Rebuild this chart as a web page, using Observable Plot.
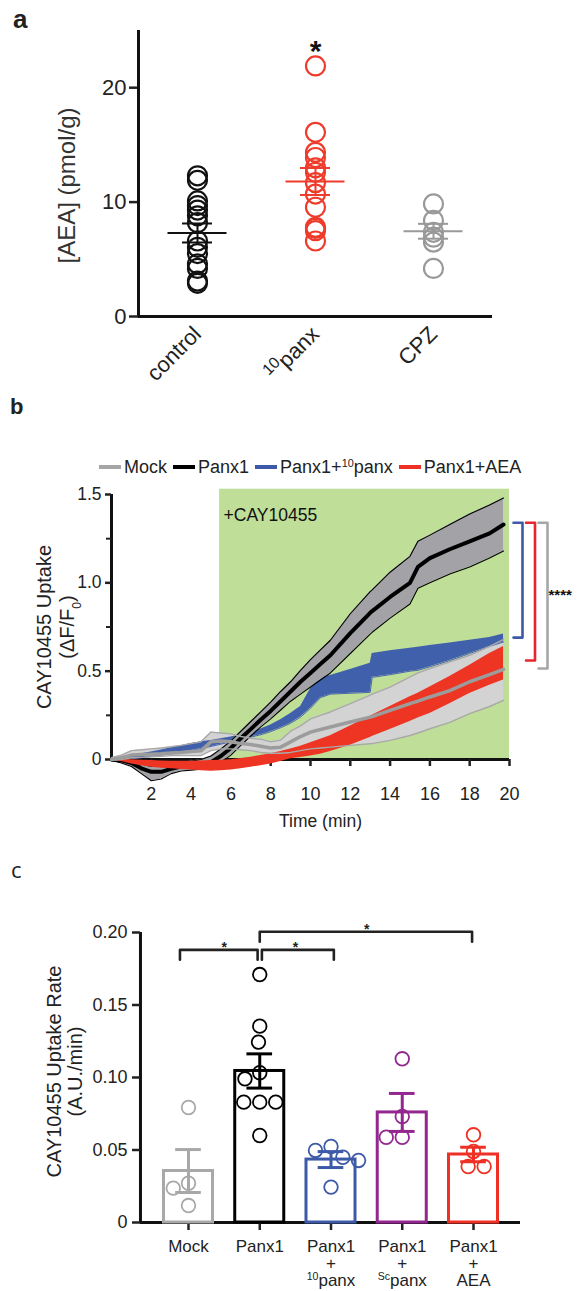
<!DOCTYPE html>
<html><head><meta charset="utf-8">
<script src="https://cdn.jsdelivr.net/npm/d3@7"></script>
<script src="https://cdn.jsdelivr.net/npm/@observablehq/plot@0.6"></script>
<style>
body{margin:0;background:#fff;}
#fig{position:relative;width:578px;height:1291px;overflow:hidden;font-family:"Liberation Sans",Arial,Helvetica,sans-serif;color:#222;}
.panel{position:absolute;left:0;}
.letter{position:absolute;line-height:1;}
#legendB{position:absolute;left:99px;top:458px;display:flex;gap:6px;font-size:18px;line-height:18px;align-items:center;white-space:nowrap;}
.item{display:flex;align-items:center;gap:3px;}
.sw{width:22px;height:4px;display:inline-block;}
sup{font-size:60%;vertical-align:0.6em;line-height:0;}
</style></head><body><div id="fig"></div>
<script>
// ---------------- DATA ----------------
// Panel a
const groupsA = ["control", "^{10}panx", "CPZ"];
const colorsA = ["#111111", "#ee3b2b", "#999999"];
const controlAEA = [12.3, 11.9, 10.1, 9.7, 9.3, 8.8, 8.2, 6.6, 6.05, 5.5, 4.6, 4.2, 3.1, 2.9];
const panxAEA = [21.9, 16.1, 14.35, 13.9, 13.0, 12.6, 11.7, 10.7, 9.55, 7.8, 7.7, 7.5, 6.6];
const cpzAEA = [9.84, 8.4, 7.36, 6.93, 6.5, 4.2];
const meanA = [7.3, 11.8, 7.45];
const semA = [0.83, 1.18, 0.65];
const sigA = ["", "*", ""];
const yTicksA = [0, 10, 20];

// Panel b
const seriesB = ["Mock", "Panx1", "Panx1+^{10}panx", "Panx1+AEA"];
const colorsB = ["#a6a6a6", "#000000", "#3d5aa8", "#ee3124"];
const timeMin = [0,0.5,1,1.5,2,2.5,3,3.5,4,4.5,5,5.5,6,6.5,7,7.5,8,8.5,9,9.5,10,10.5,11,12,13,13.1,14,15,15.4,16,17,18,19,19.7];
const panx1Mean = [0,-0.005,-0.02,-0.05,-0.07,-0.07,-0.053,-0.04,-0.034,-0.028,-0.015,0.02,0.065,0.12,0.172,0.225,0.275,0.33,0.385,0.44,0.49,0.54,0.59,0.715,0.83,0.84,0.92,1.0,1.09,1.14,1.19,1.235,1.28,1.33];
const panx1Lo = [-0.005,-0.02,-0.04,-0.08,-0.12,-0.11,-0.08,-0.065,-0.06,-0.055,-0.05,-0.015,0.025,0.08,0.133,0.185,0.23,0.28,0.33,0.37,0.41,0.45,0.49,0.6,0.71,0.72,0.8,0.88,0.97,1.0,1.05,1.09,1.14,1.18];
const panx1Hi = [0.01,0.01,0.0,-0.025,-0.04,-0.04,-0.03,-0.015,-0.01,0.0,0.02,0.06,0.105,0.16,0.215,0.27,0.325,0.385,0.44,0.505,0.565,0.62,0.675,0.825,0.95,0.96,1.06,1.15,1.235,1.27,1.33,1.39,1.44,1.48];
const tenpanxLo = [-0.01,-0.005,0.004,0.01,0.017,0.025,0.032,0.04,0.05,0.062,0.074,0.087,0.1,0.113,0.127,0.14,0.158,0.18,0.205,0.24,0.29,0.35,0.37,0.375,0.38,0.465,0.48,0.5,0.505,0.525,0.56,0.6,0.64,0.665];
const tenpanxHi = [0.0,0.012,0.023,0.032,0.042,0.054,0.066,0.078,0.09,0.1,0.108,0.118,0.127,0.14,0.155,0.172,0.195,0.225,0.26,0.3,0.4,0.465,0.475,0.51,0.545,0.6,0.615,0.63,0.635,0.645,0.66,0.675,0.69,0.71];
const mockMean = [0,0.01,0.025,0.028,0.03,0.032,0.037,0.04,0.045,0.05,0.1,0.105,0.1,0.09,0.085,0.075,0.065,0.07,0.1,0.13,0.155,0.17,0.184,0.212,0.24,0.243,0.278,0.316,0.33,0.354,0.39,0.44,0.48,0.51];
const mockLo = [-0.005,0.0,0.01,0.012,0.015,0.018,0.022,0.022,0.022,0.023,0.05,0.06,0.06,0.055,0.05,0.04,0.035,0.035,0.04,0.05,0.06,0.065,0.07,0.08,0.089,0.09,0.108,0.136,0.15,0.174,0.21,0.26,0.3,0.335];
const mockHi = [0.01,0.025,0.05,0.055,0.06,0.065,0.072,0.08,0.09,0.1,0.155,0.15,0.145,0.13,0.12,0.115,0.1,0.11,0.16,0.19,0.23,0.25,0.269,0.316,0.364,0.37,0.41,0.468,0.49,0.515,0.553,0.59,0.64,0.68];
const aeaLo = [-0.005,-0.012,-0.025,-0.035,-0.044,-0.05,-0.053,-0.057,-0.06,-0.064,-0.066,-0.064,-0.06,-0.052,-0.044,-0.035,-0.025,-0.012,0.004,0.012,0.02,0.03,0.045,0.08,0.125,0.13,0.17,0.215,0.235,0.26,0.315,0.373,0.42,0.45];
const aeaHi = [0.005,0.0,-0.002,-0.004,-0.006,-0.008,-0.01,-0.01,-0.01,-0.008,-0.006,-0.004,-0.002,0.005,0.013,0.022,0.032,0.045,0.06,0.075,0.095,0.115,0.135,0.19,0.245,0.25,0.3,0.355,0.375,0.41,0.47,0.534,0.6,0.64];
const drugStart = 5.43;      // +CAY10455 added (min)
const drugLabel = "+CAY10455";
const drugTop = 1.53;
const yTicksB = [0, 0.5, 1, 1.5];
const yMinorB = [0.25, 0.75, 1.25];
const xTicksB = [2, 4, 6, 8, 10, 12, 14, 16, 18, 20];
const sigTopB = 1.34;
const sigBottomsB = [0.69, 0.56, 0.515];   // Panx1+10panx, Panx1+AEA, Mock
const sigColorsB = ["#3d5aa8", "#e8262d", "#a6a6a6"];
const sigLabelB = "****";

// Panel c
const groupsC = ["Mock", "Panx1", "Panx1\n+\n^{10}panx", "Panx1\n+\n^{Sc}panx", "Panx1\n+\nAEA"];
const colorsC = ["#a8a8a8", "#000000", "#3d5aa8", "#93278f", "#ee3124"];
const meanC = [0.0355, 0.1045, 0.0434, 0.0759, 0.0469];
const semC = [0.0148, 0.0118, 0.0055, 0.0131, 0.005];
const pointsC = [
  [0.0793, 0.0271, 0.0237, 0.0117],
  [0.171, 0.1354, 0.1244, 0.1033, 0.0991, 0.083, 0.083, 0.083, 0.06],
  [0.0524, 0.0497, 0.045, 0.0428, 0.0244],
  [0.1129, 0.0731, 0.0588, 0.0588],
  [0.0605, 0.049, 0.0386, 0.0386]
];
const sigC = [{from: 0, to: 1, y: 0.188}, {from: 1, to: 2, y: 0.188}, {from: 1, to: 4, y: 0.2005}];
const yTicksC = [0, 0.05, 0.1, 0.15, 0.2];

// ---------------- HELPERS ----------------
const FONT = '"Liberation Sans", Arial, Helvetica, sans-serif';
const fig = document.getElementById("fig");
const SVGNS = "http://www.w3.org/2000/svg";
function richText(root, supSize) {
  root.querySelectorAll("text, tspan").forEach(el => {
    if (el.children.length) return;
    const s = el.textContent;
    if (!/[\^_]\{/.test(s)) return;
    el.textContent = "";
    const re = /([\^_])\{([^}]*)\}/g;
    let last = 0, m;
    const add = str => { const t = document.createElementNS(SVGNS, "tspan"); t.textContent = str; el.appendChild(t); return t; };
    while ((m = re.exec(s))) {
      if (m.index > last) add(s.slice(last, m.index));
      const t = add(m[2]);
      t.setAttribute("baseline-shift", m[1] === "^" ? "super" : "sub");
      t.setAttribute("font-size", supSize);
      last = re.lastIndex;
    }
    if (last < s.length) add(s.slice(last));
  });
}
function htmlRich(s) { return s.replace(/\^\{([^}]*)\}/g, "<sup>$1</sup>"); }
function place(svg, top, supSize = "62%") {
  const div = document.createElement("div");
  div.className = "panel"; div.style.top = top + "px";
  richText(svg, supSize);
  div.appendChild(svg); fig.appendChild(div);
}
function letter(ch, left, top, size, weight, family) {
  const d = document.createElement("div");
  d.className = "letter"; d.textContent = ch;
  Object.assign(d.style, {left: left + "px", top: top + "px", fontSize: size + "px", fontWeight: weight, fontFamily: family || FONT});
  fig.appendChild(d);
}

// ---------------- PANEL A ----------------
const dotsA = [controlAEA, panxAEA, cpzAEA].flatMap((vals, i) => vals.map(v => ({i, v})));
const statsA = groupsA.map((g, i) => ({i, m: meanA[i], lo: meanA[i] - semA[i], hi: meanA[i] + semA[i], c: colorsA[i], s: sigA[i]}));
const plotA = Plot.plot({
  width: 578, height: 400, marginLeft: 138, marginRight: 86, marginTop: 30, marginBottom: 84,
  x: {domain: [-0.5, 2.5]}, y: {domain: [0, 25]}, color: {type: "identity"},
  style: {fontFamily: FONT, fontSize: "22px", color: "#222", background: "transparent", overflow: "visible"},
  marks: [
    Plot.axisY({ticks: yTicksA, tickSize: 9, tickFormat: () => "", strokeWidth: 2.5, label: null}),
    Plot.text(yTicksA, {y: d => d, frameAnchor: "left", dx: -12, textAnchor: "end", fontSize: 22, fill: "#222"}),
    Plot.axisX({ticks: [0, 1, 2], tickFormat: i => groupsA[i], tickRotate: -45, tickSize: 0, tickPadding: 14, fontSize: 22, label: null}),
    Plot.ruleX([-0.5], {strokeWidth: 3, stroke: "#111"}),
    Plot.ruleY([0], {strokeWidth: 3, stroke: "#111"}),
    Plot.dot(dotsA, {x: "i", y: "v", r: 9.5, stroke: d => colorsA[d.i], strokeWidth: 2.2, fill: "none"}),
    Plot.ruleY(statsA, {x1: d => d.i - 0.25, x2: d => d.i + 0.25, y: "m", stroke: "c", strokeWidth: 2}),
    Plot.ruleY(statsA, {x1: d => d.i - 0.127, x2: d => d.i + 0.127, y: "lo", stroke: "c", strokeWidth: 2}),
    Plot.ruleY(statsA, {x1: d => d.i - 0.127, x2: d => d.i + 0.127, y: "hi", stroke: "c", strokeWidth: 2}),
    Plot.ruleX(statsA, {x: "i", y1: "lo", y2: "hi", stroke: "c", strokeWidth: 2}),
    Plot.text(statsA, {x: "i", text: "s", frameAnchor: "top", dy: 9, fontSize: 30, fontWeight: "bold", fill: "#111"}),
    Plot.text(["[AEA] (pmol/g)"], {frameAnchor: "left", textAnchor: "middle", dx: -71, dy: 12, rotate: -90, fontSize: 24, fill: "#333"})
  ]
});
place(plotA, 0, "72%");
letter("a", 13, 6, 26, "bold");

// ---------------- PANEL B ----------------
const rows = (lo, hi, m) => timeMin.map((t, j) => ({t, lo: lo[j], hi: hi[j], m: m ? m[j] : null}));
const mockRows = rows(mockLo, mockHi, mockMean);
const panx1Rows = rows(panx1Lo, panx1Hi, panx1Mean);
const tenRows = rows(tenpanxLo, tenpanxHi);
const aeaRows = rows(aeaLo, aeaHi);
const pxPerMin = (509 - 111) / 20;
const armB = 9 / pxPerMin;
const bracketMarks = sigBottomsB.map((b, k) => Plot.line(
  [{t: 20, v: sigTopB}, {t: 20 + armB, v: sigTopB}, {t: 20 + armB, v: b}, {t: 20, v: b}],
  {x: "t", y: "v", dx: 4 + 12.5 * k, stroke: sigColorsB[k], strokeWidth: 2.6, curve: "linear"}));
const plotB = Plot.plot({
  width: 578, height: 460, marginLeft: 111, marginRight: 69, marginTop: 94, marginBottom: 101,
  x: {domain: [0, 20]}, y: {domain: [0, 1.5]},
  style: {fontFamily: FONT, fontSize: "17px", color: "#222", background: "transparent", overflow: "visible"},
  marks: [
    Plot.rect([{}], {x1: drugStart, x2: 20, y1: 0, y2: drugTop, fill: "#bfde98"}),
    Plot.ruleY([0], {strokeWidth: 3, stroke: "#111"}),
    Plot.ruleX([0], {strokeWidth: 3, stroke: "#111"}),
    Plot.axisY({ticks: yTicksB, tickFormat: () => "", tickSize: 6, strokeWidth: 2.5, label: null}),
    Plot.axisY({ticks: yMinorB, tickFormat: () => "", tickSize: 5, strokeWidth: 2, label: null}),
    Plot.text(yTicksB, {y: d => d, text: d => d === 0 ? "0" : d.toFixed(1), frameAnchor: "left", dx: -10, textAnchor: "end", fontSize: 17.5, fill: "#222"}),
    Plot.axisX({ticks: xTicksB, tickFormat: () => "", tickSize: 7, strokeWidth: 2.5, label: null}),
    Plot.text(xTicksB, {x: d => d, frameAnchor: "bottom", dy: 40, fontSize: 18, fill: "#222"}),
    Plot.areaY(mockRows, {x: "t", y1: "lo", y2: "hi", fill: "#d3d3d3"}),
    Plot.areaY(tenRows, {x: "t", y1: "lo", y2: "hi", fill: "#4160ac"}),
    Plot.line(tenRows, {x: "t", y: "lo", stroke: "#4a66b0", strokeWidth: 1}),
    Plot.areaY(panx1Rows, {x: "t", y1: "lo", y2: "hi", fill: "#a3a3a7"}),
    Plot.line(panx1Rows, {x: "t", y: "lo", stroke: "#000", strokeWidth: 1.1}),
    Plot.line(panx1Rows, {x: "t", y: "hi", stroke: "#000", strokeWidth: 1.1}),
    Plot.line(panx1Rows, {x: "t", y: "m", stroke: "#000", strokeWidth: 4}),
    Plot.areaY(aeaRows, {x: "t", y1: "lo", y2: "hi", fill: "#ee3524"}),
    Plot.line(mockRows, {x: "t", y: "lo", stroke: "#a9a9a9", strokeWidth: 1.4}),
    Plot.line(mockRows, {x: "t", y: "hi", stroke: "#a9a9a9", strokeWidth: 1.4}),
    Plot.line(mockRows, {x: "t", y: "m", stroke: "#9c9c9c", strokeWidth: 3.5}),
    Plot.text([drugLabel], {x: drugStart, frameAnchor: "top", dx: 4, dy: 14, textAnchor: "start", fontSize: 17.5, fill: "#111"}),
    ...bracketMarks,
    Plot.text([{t: 20, v: (sigTopB + sigBottomsB[2]) / 2}], {x: "t", y: "v", text: () => sigLabelB, dx: 39, textAnchor: "start", fontSize: 15, fontWeight: "bold", fill: "#111"}),
    Plot.text(["CAY10455 Uptake"], {frameAnchor: "left", textAnchor: "middle", dx: -67, rotate: -90, fontSize: 20, fill: "#222"}),
    Plot.text(["(ΔF/F_{0})"], {frameAnchor: "left", textAnchor: "middle", dx: -44, rotate: -90, fontSize: 20, fill: "#222"}),
    Plot.text(["Time (min)"], {frameAnchor: "bottom", dx: 10, dy: 67, fontSize: 17.5, fill: "#222"})
  ]
});
place(plotB, 400, "60%");
letter("b", 10, 396, 22, "bold");
// legend
const leg = document.createElement("div");
leg.id = "legendB";
leg.innerHTML = seriesB.map((s, k) => `<span class="item"><span class="sw" style="background:${colorsB[k]}"></span><span>${htmlRich(s)}</span></span>`).join("");
fig.appendChild(leg);

// ---------------- PANEL C ----------------
const pxPerUnitY = (362 - 72) / 0.2;
const pxPerCat = (473 - 188) / 4;
function swarm(vals, diam) {
  const placed = [], off = new Array(vals.length);
  const order = vals.map((v, k) => k).sort((a, b) => vals[b] - vals[a]);
  for (const k of order) {
    const y = vals[k] * pxPerUnitY;
    const cands = [0];
    for (const p of placed) {
      const dy = Math.abs(p.y - y);
      if (dy < diam) { const w = Math.sqrt(diam * diam - dy * dy); cands.push(p.x - w, p.x + w); }
    }
    cands.sort((a, b) => Math.abs(a) - Math.abs(b) || a - b);
    const x = cands.find(c => placed.every(p => (p.x - c) ** 2 + (p.y - y) ** 2 >= diam * diam - 1e-6));
    placed.push({x, y}); off[k] = x;
  }
  return off;
}
const dotsC = pointsC.flatMap((vals, i) => { const off = swarm(vals, 16); return vals.map((v, k) => ({x: i + off[k] / pxPerCat, v, c: colorsC[i]})); });
const barsC = groupsC.map((g, i) => ({i, m: meanC[i], lo: meanC[i] - semC[i], hi: meanC[i] + semC[i], c: colorsC[i]}));
const drop = 0.0068;
const bracketC = sigC.flatMap((s, k) => {
  const a = s.from + (k === 0 ? -0.12 : k === 1 ? 0.03 : 0), b = s.to + (k === 0 ? -0.03 : k === 1 ? 0.04 : -0.02);
  return [{k, x: a, y: s.y - drop}, {k, x: a, y: s.y}, {k, x: b, y: s.y}, {k, x: b, y: s.y - drop}];
});
const starsC = sigC.map(s => ({x: (s.from + s.to) / 2, y: s.y}));
const plotC = Plot.plot({
  width: 578, height: 431, marginLeft: 140, marginRight: 58, marginTop: 72, marginBottom: 69,
  x: {domain: [0, 4], range: [188, 473]}, y: {domain: [0, 0.2], range: [362, 72]}, color: {type: "identity"},
  style: {fontFamily: FONT, fontSize: "17px", color: "#222", background: "transparent", overflow: "visible"},
  marks: [
    Plot.ruleX([-0.674], {strokeWidth: 3, stroke: "#111"}),
    Plot.ruleY([0], {strokeWidth: 3, stroke: "#111"}),
    Plot.axisY({ticks: yTicksC, tickFormat: () => "", tickSize: 8, strokeWidth: 2.5, label: null}),
    Plot.text(yTicksC, {y: d => d, text: d => d === 0 ? "0" : d.toFixed(2), frameAnchor: "left", dx: -13, textAnchor: "end", fontSize: 18, fill: "#222"}),
    Plot.axisX({ticks: [0, 1, 2, 3, 4], tickFormat: i => groupsC[i], tickSize: 8, tickPadding: 9, fontSize: 17, lineHeight: 1, strokeWidth: 2.5, label: null}),
    Plot.rectY(barsC, {x1: d => d.i - 0.344, x2: d => d.i + 0.344, y1: 0, y2: "m", stroke: "c", strokeWidth: 3, fill: "none"}),
    Plot.dot(dotsC, {x: "x", y: "v", r: 6.8, stroke: "c", strokeWidth: 1.8, fill: "none"}),
    Plot.ruleX(barsC, {x: "i", y1: "lo", y2: "hi", stroke: "c", strokeWidth: 3}),
    Plot.ruleY(barsC, {x1: d => d.i - 0.18, x2: d => d.i + 0.18, y: "hi", stroke: "c", strokeWidth: 3}),
    Plot.ruleY(barsC, {x1: d => d.i - 0.18, x2: d => d.i + 0.18, y: "lo", stroke: "c", strokeWidth: 3}),
    Plot.line(bracketC, {x: "x", y: "y", z: "k", stroke: "#222", strokeWidth: 2.6, curve: "linear"}),
    Plot.text(starsC, {x: "x", y: "y", text: () => "*", dy: -2.5, fontSize: 14, fontWeight: "bold", fill: "#222"}),
    Plot.text(["CAY10455 Uptake Rate"], {frameAnchor: "left", textAnchor: "middle", dx: -86, dy: -6, rotate: -90, fontSize: 20, fill: "#222"}),
    Plot.text(["(A.U./min)"], {frameAnchor: "left", textAnchor: "middle", dx: -65, dy: -6, rotate: -90, fontSize: 20, fill: "#222"})
  ]
});
place(plotC, 860);
letter("c", 11, 858, 22, "normal", '"Open Sans", sans-serif');
</script></body></html>
